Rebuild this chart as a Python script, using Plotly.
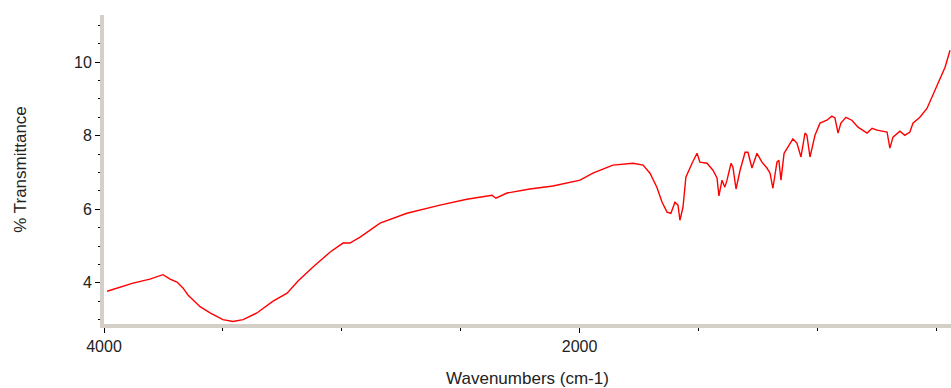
import plotly.graph_objects as go

wavenumber = [3987, 3933, 3878, 3807, 3752, 3722, 3693, 3668, 3647, 3596, 3554, 3500, 3458, 3415,
              3357, 3289, 3230, 3184, 3121, 3050, 2995, 2966, 2923, 2839, 2726, 2587, 2474, 2368,
              2352, 2305, 2209, 2112, 1998, 1944, 1860, 1775, 1733, 1704, 1675, 1653, 1632, 1616,
              1599, 1586, 1578, 1565, 1553, 1527, 1506, 1494, 1464, 1439, 1422, 1414, 1401, 1389,
              1380, 1363, 1355, 1342, 1325, 1304, 1292, 1275, 1254, 1233, 1212, 1199, 1187, 1170,
              1162, 1153, 1140, 1124, 1103, 1086, 1069, 1052, 1044, 1031, 1010, 989, 960, 939,
              926, 913, 901, 880, 855, 829, 791, 770, 749, 707, 695, 682, 653, 632, 611, 598,
              569, 539, 514, 485, 463, 442]
transmittance = [3.77, 3.88, 3.99, 4.10, 4.22, 4.10, 4.02, 3.86, 3.67, 3.35, 3.18, 3.00, 2.95, 3.00,
                 3.18, 3.50, 3.72, 4.05, 4.43, 4.83, 5.08, 5.08, 5.24, 5.62, 5.89, 6.11, 6.27, 6.38,
                 6.30, 6.44, 6.55, 6.63, 6.79, 6.98, 7.20, 7.25, 7.20, 6.98, 6.60, 6.19, 5.92, 5.89,
                 6.19, 6.11, 5.70, 6.06, 6.87, 7.25, 7.52, 7.28, 7.25, 7.06, 6.85, 6.36, 6.79, 6.60,
                 6.79, 7.25, 7.14, 6.55, 7.06, 7.55, 7.55, 7.12, 7.52, 7.28, 7.12, 6.98, 6.57, 7.28,
                 7.33, 6.79, 7.52, 7.69, 7.91, 7.80, 7.42, 8.07, 8.01, 7.42, 8.01, 8.34, 8.42, 8.53,
                 8.48, 8.07, 8.34, 8.50, 8.42, 8.23, 8.07, 8.20, 8.15, 8.10, 7.66, 7.96, 8.12, 8.01,
                 8.10, 8.34, 8.50, 8.74, 9.10, 9.51, 9.86, 10.32]

x_tick_vals = [4000, 2000]
x_tick_text = ["4000", "2000"]
x_minor_vals = [3500, 3000, 2500, 1500, 1000, 500]
y_tick_vals = [4, 6, 8, 10]
y_tick_text = ["4", "6", "8", "10"]

fig = go.Figure()
fig.add_trace(go.Scatter(x=wavenumber, y=transmittance, mode="lines",
                         line=dict(color="#ff0000", width=1.4), showlegend=False))

tick_font = dict(family="Liberation Sans, Arial, sans-serif", size=16, color="#222222")
title_font = dict(family="Liberation Sans, Arial, sans-serif", size=17, color="#222222")

fig.update_layout(
    width=951, height=388,
    margin=dict(l=104, r=0, t=15, b=64),
    paper_bgcolor="white", plot_bgcolor="white",
    font=tick_font,
    xaxis=dict(
        range=[4000, 438],
        showgrid=False, zeroline=False,
        showline=True, linecolor="#d4d0c8", linewidth=4,
        tickmode="array", tickvals=x_tick_vals, ticktext=x_tick_text,
        ticks="outside", ticklen=5, tickcolor="black", tickwidth=1,
        minor=dict(tickmode="array", tickvals=x_minor_vals, ticks="outside",
                   ticklen=3, tickcolor="black", tickwidth=1),
        tickfont=tick_font,
        title=dict(text="Wavenumbers (cm-1)", font=title_font, standoff=19),
    ),
    yaxis=dict(
        range=[2.88, 11.28],
        showgrid=False, zeroline=False,
        showline=True, linecolor="#d4d0c8", linewidth=4,
        tickmode="array", tickvals=y_tick_vals, ticktext=y_tick_text,
        ticks="outside", ticklen=5, tickcolor="black", tickwidth=1,
        minor=dict(dtick=0.5, tick0=0, ticks="outside", ticklen=2,
                   tickcolor="black", tickwidth=1),
        tickfont=tick_font,
        title=dict(text="% Transmittance", font=title_font, standoff=44),
    ),
)

fig.write_html(
    "out.html",
    config={"displayModeBar": False},
    post_script="document.body.style.margin='0px';document.body.style.overflow='hidden';",
)
